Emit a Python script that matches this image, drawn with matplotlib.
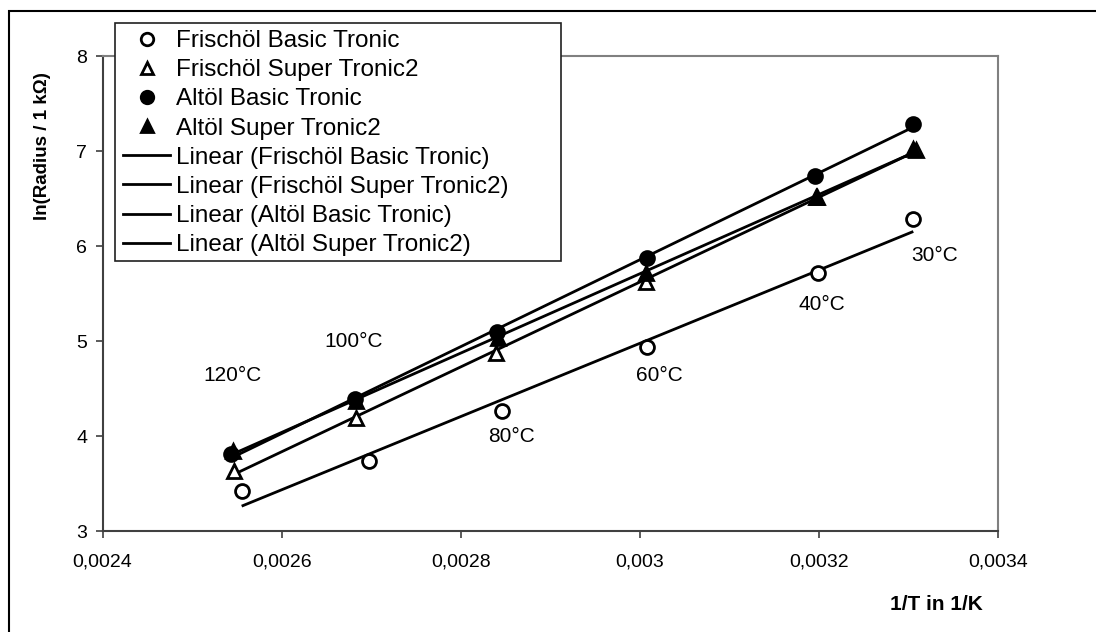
import numpy as np
import matplotlib
matplotlib.use("Agg")
import matplotlib.pyplot as plt
from matplotlib.lines import Line2D
from matplotlib.patches import Rectangle
from matplotlib.ticker import FuncFormatter, MultipleLocator

plt.rcParams['font.family'] = ['Liberation Sans', 'DejaVu Sans']

# Inverse temperature 1/T (1/K) and ln(R / 1 kOhm) for each oil / sensor
x_frisch_basic = [0.0025554, 0.0026979, 0.0028458, 0.0030077, 0.0031993, 0.0033054]
y_frisch_basic = [3.424, 3.740, 4.263, 4.934, 5.713, 6.281]

x_frisch_super = [0.0025472, 0.0026827, 0.0028391, 0.0030069, 0.0031970, 0.0033085]
y_frisch_super = [3.635, 4.186, 4.877, 5.624, 6.520, 7.010]

x_alt_basic = [0.0025440, 0.0026820, 0.0028402, 0.0030077, 0.0031956, 0.0033047]
y_alt_basic = [3.807, 4.386, 5.098, 5.870, 6.737, 7.284]

x_alt_super = [0.0025460, 0.0026830, 0.0028420, 0.0030069, 0.0031975, 0.0033054]
y_alt_super = [3.845, 4.372, 5.028, 5.713, 6.519, 7.018]

temp_labels = ["120°C", "100°C", "80°C", "60°C", "40°C", "30°C"]
temp_label_x = [0.0025447, 0.0026801, 0.0028569, 0.0030218, 0.0032038, 0.0033289]
temp_label_y = [4.634, 4.992, 3.997, 4.635, 5.389, 5.905]

series_names = ["Frischöl Basic Tronic", "Frischöl Super Tronic2",
                "Altöl Basic Tronic", "Altöl Super Tronic2"]

W, H = 1096, 632
fig = plt.figure(figsize=(W / 100, H / 100), dpi=100)
ax = fig.add_axes([102.5 / W, 1 - 531 / H, (998 - 102.5) / W, (531 - 56) / H])

series = [
    (x_frisch_basic, y_frisch_basic, 'o', 'white'),
    (x_frisch_super, y_frisch_super, '^', 'white'),
    (x_alt_basic, y_alt_basic, 'o', 'black'),
    (x_alt_super, y_alt_super, '^', 'black'),
]

# Linear trend lines (least squares) over each series' range
for xs, ys, m, fc in series:
    xs = np.asarray(xs)
    k, d = np.polyfit(xs, ys, 1)
    xe = np.array([xs.min(), xs.max()])
    ax.plot(xe, k * xe + d, color='black', lw=2.0, zorder=2, solid_capstyle='butt')

for xs, ys, m, fc in series:
    ax.plot(xs, ys, linestyle='none', marker=m, markersize=10,
            markerfacecolor=fc, markeredgecolor='black', markeredgewidth=2.0, zorder=3)

for t, tx, ty in zip(temp_labels, temp_label_x, temp_label_y):
    ax.text(tx, ty, t, ha='center', va='center', fontsize=15, color='black', zorder=4)

ax.set_xlim(0.0024, 0.0034)
ax.set_ylim(3, 8)
ax.xaxis.set_major_locator(MultipleLocator(0.0002))
ax.yaxis.set_major_locator(MultipleLocator(1))


def comma_fmt(v, pos):
    s = ('%.4f' % v).rstrip('0').rstrip('.')
    return s.replace('.', ',')


ax.xaxis.set_major_formatter(FuncFormatter(comma_fmt))
ax.yaxis.set_major_formatter(FuncFormatter(lambda v, p: '%d' % v))
ax.tick_params(direction='out', length=5, width=1.2, color='#404040',
               labelsize=14, pad=6)
ax.tick_params(axis='x', pad=11)

for side in ['left', 'bottom']:
    ax.spines[side].set_color('#404040')
    ax.spines[side].set_linewidth(1.5)
for side in ['top', 'right']:
    ax.spines[side].set_color('#808080')
    ax.spines[side].set_linewidth(1.5)

fig.text(43 / W, 1 - 146 / H, 'ln(Radius / 1 kΩ)', rotation=90,
         ha='center', va='center', fontsize=13.5, fontweight='bold')
fig.text(983 / W, 1 - 605 / H, '1/T in 1/K', ha='right', va='center',
         fontsize=15, fontweight='bold')

# Legend: marker entries followed by trend-line entries
handles = []
for xs, ys, m, fc in series:
    handles.append(Line2D([], [], linestyle='none', marker=m, markersize=9,
                          markerfacecolor=fc, markeredgecolor='black', markeredgewidth=2.0))
for name in series_names:
    handles.append(Line2D([], [], color='black', lw=2.0))
labels = series_names + ['Linear (%s)' % n for n in series_names]

leg = fig.legend(handles, labels, loc='upper left',
                 bbox_to_anchor=(123 / W, 1 - 30 / H),
                 frameon=False, fontsize=17.5,
                 handlelength=1.95, handletextpad=0.22, labelspacing=0.295,
                 borderpad=0.0, borderaxespad=0.0)
fig.patches.append(Rectangle((115 / W, 1 - 261 / H), (561 - 115) / W, (261 - 23) / H,
                             transform=fig.transFigure, facecolor='white',
                             edgecolor='#202020', lw=1.2, zorder=5))
leg.set_zorder(6)

# Outer frame
fig.patches.append(Rectangle((9 / W, -0.05), 1.2, 1 - 11 / H + 0.05,
                             transform=fig.transFigure, fill=False,
                             edgecolor='black', lw=1.5))

fig.savefig('out.png', dpi=100)
